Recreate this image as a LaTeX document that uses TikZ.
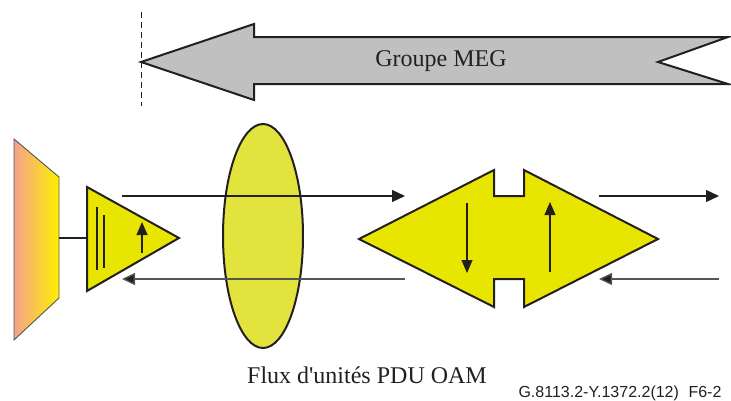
\documentclass[tikz,border=0pt]{standalone}
\usepackage{fontspec}
\setmainfont{Liberation Serif}[Ligatures=TeXOff]
\newfontfamily\arialfont{Liberation Sans}
\usetikzlibrary{arrows.meta}
\definecolor{outl}{HTML}{231F20}
\definecolor{yel}{HTML}{E8E600}
\definecolor{ellfill}{HTML}{E3E33E}
\definecolor{graybody}{HTML}{C0C0C0}
\definecolor{salmon}{HTML}{F4A28C}
\definecolor{trapyel}{HTML}{FFF000}
\definecolor{greyline}{HTML}{555555}
\tikzset{
  shapeline/.style={draw=outl, line width=2pt, line join=miter},
  flowarrow/.style={draw=outl, line width=1.1pt, -{Triangle[length=13pt,width=12pt]}},
  backarrow/.style={draw=greyline, line width=1.3pt, -{Triangle[length=13pt,width=12pt,fill=outl]}},
  innerarrow/.style={draw=outl, line width=1.1pt, -{Triangle[length=13pt,width=11pt]}},
  bigtext/.style={font=\fontsize{24}{27}\selectfont, text=outl, inner sep=0pt},
  reftext/.style={font=\arialfont\fontsize{16}{19}\selectfont, text=outl, inner sep=0pt},
}
\begin{document}
\begin{tikzpicture}[x=1pt,y=-1pt]
\useasboundingbox (0,0) rectangle (731,400);
% dashed boundary
\coordinate (d1) at (141,12);
\coordinate (d2) at (141,106);
\draw[outl, line width=0.8pt, dash pattern=on 6pt off 4pt] (d1) -- (d2);
% big grey arrow
\draw[shapeline, fill=graybody] (141,62) -- (254,24) -- (254,37) -- (728,37) -- (658,62) -- (728,84) -- (254,84) -- (254,100) -- cycle;
\node[bigtext] (meg) at (441,61) {Groupe MEG};
% trapezoid
\shade[left color=salmon, right color=trapyel] (14,139) -- (59,177) -- (59,298) -- (14,340) -- cycle;
\draw[greyline, line width=0.9pt] (14,139) -- (59,177) -- (59,298) -- (14,340) -- cycle;
\coordinate (trapR) at (59,238);
% triangle
\draw[shapeline, fill=yel] (87,187) -- (179,238) -- (87,291) -- cycle;
\coordinate (triL) at (87,238);
\draw[outl, line width=1.8pt] (trapR) -- (triL);
\draw[outl, line width=1.8pt] (97,207) -- (97,270);
\draw[outl, line width=1.8pt] (104,215) -- (104,268);
\coordinate (ua1) at (142,253);
\coordinate (ua2) at (142,222);
\draw[innerarrow] (ua1) -- (ua2);
% ellipse
\draw[draw=outl, line width=2pt, fill=ellfill] (263,236) ellipse [x radius=40, y radius=112];
% horizontal arrows left
\coordinate (t1) at (122,196);
\coordinate (t2) at (405,196);
\coordinate (b1) at (405,279);
\coordinate (b2) at (122,279);
\draw[flowarrow] (t1) -- (t2);
\draw[backarrow] (b1) -- (b2);
% double arrow shape
\draw[shapeline, fill=yel] (359,239) -- (494,170) -- (494,196) -- (524,196) -- (524,170) -- (658,239) -- (524,307) -- (524,279) -- (494,279) -- (494,307) -- cycle;
\coordinate (da1) at (467,203);
\coordinate (da2) at (467,273);
\coordinate (ub1) at (550,272);
\coordinate (ub2) at (550,202);
\draw[innerarrow] (da1) -- (da2);
\draw[innerarrow] (ub1) -- (ub2);
% horizontal arrows right
\coordinate (t3) at (599,196);
\coordinate (t4) at (719,196);
\coordinate (b3) at (719,279);
\coordinate (b4) at (599,279);
\draw[flowarrow] (t3) -- (t4);
\draw[backarrow] (b3) -- (b4);
% labels
\node[bigtext] (flux) at (367,375) {Flux d'unités PDU OAM};
\node[reftext] (ref) at (620,393) {G.8113.2-Y.1372.2(12)\hspace{0.6em}F6-2};
\end{tikzpicture}
\end{document}
